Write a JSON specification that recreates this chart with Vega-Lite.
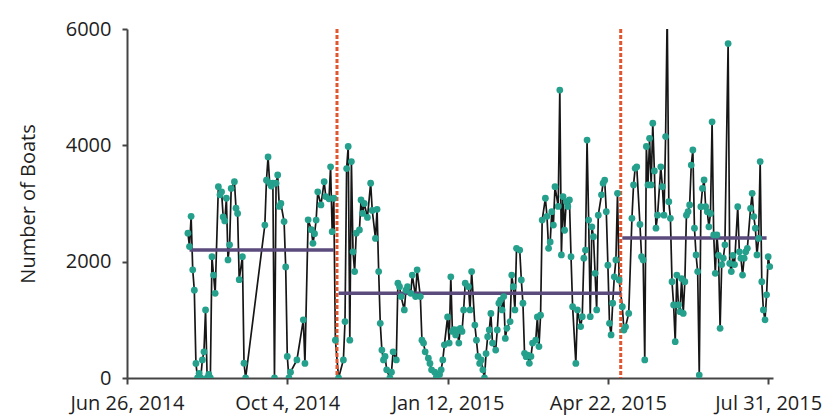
{
"$schema": "https://vega.github.io/schema/vega-lite/v6.json",
"width": 646, "height": 349,
"autosize": {"type": "none"},
"padding": {"left": 127, "top": 29, "right": 67, "bottom": 41},
"background": "white",
"config": {"view": {"stroke": null}, "font": "Open Sans"},
"data": {"values": [
{"t":"2014-08-03","v":2490},{"t":"2014-08-04","v":2260},{"t":"2014-08-05","v":2780},{"t":"2014-08-06","v":1860},{"t":"2014-08-07","v":1510},{"t":"2014-08-08","v":250},{"t":"2014-08-09","v":0},{"t":"2014-08-10","v":80},{"t":"2014-08-11","v":0},{"t":"2014-08-12","v":310},{"t":"2014-08-13","v":450},{"t":"2014-08-14","v":1170},{"t":"2014-08-15","v":0},{"t":"2014-08-16","v":60},{"t":"2014-08-17","v":0},{"t":"2014-08-18","v":2085},{"t":"2014-08-19","v":1770},{"t":"2014-08-20","v":1455},{"t":"2014-08-22","v":3290},{"t":"2014-08-23","v":3150},{"t":"2014-08-24","v":3200},{"t":"2014-08-25","v":2770},{"t":"2014-08-26","v":2700},{"t":"2014-08-27","v":3090},{"t":"2014-08-28","v":2030},{"t":"2014-08-29","v":2290},{"t":"2014-08-30","v":3260},{"t":"2014-09-01","v":3375},{"t":"2014-09-02","v":2920},{"t":"2014-09-03","v":2830},{"t":"2014-09-04","v":1690},{"t":"2014-09-06","v":2085},{"t":"2014-09-07","v":255},{"t":"2014-09-08","v":0},
{"t":"2014-09-20","v":2630},{"t":"2014-09-21","v":3400},{"t":"2014-09-22","v":3800},{"t":"2014-09-23","v":3350},{"t":"2014-09-24","v":3300},{"t":"2014-09-25","v":3350},{"t":"2014-09-26","v":0},{"t":"2014-09-27","v":3350},{"t":"2014-09-28","v":3490},{"t":"2014-09-29","v":2950},{"t":"2014-09-30","v":3000},{"t":"2014-10-02","v":2690},{"t":"2014-10-03","v":1910},{"t":"2014-10-04","v":370},{"t":"2014-10-05","v":0},{"t":"2014-10-06","v":100},{"t":"2014-10-10","v":310},{"t":"2014-10-14","v":1000},{"t":"2014-10-15","v":250},{"t":"2014-10-17","v":2720},{"t":"2014-10-19","v":2550},{"t":"2014-10-20","v":2315},{"t":"2014-10-21","v":2480},{"t":"2014-10-22","v":2716},{"t":"2014-10-23","v":3200},{"t":"2014-10-25","v":2975},{"t":"2014-10-27","v":3375},{"t":"2014-10-28","v":3120},{"t":"2014-10-30","v":3080},{"t":"2014-10-31","v":3630},{"t":"2014-11-01","v":2515},{"t":"2014-11-02","v":3090},{"t":"2014-11-03","v":650},
{"t":"2014-11-05","v":0},{"t":"2014-11-08","v":310},{"t":"2014-11-09","v":970},{"t":"2014-11-10","v":3600},{"t":"2014-11-11","v":3980},{"t":"2014-11-12","v":650},{"t":"2014-11-13","v":3720},{"t":"2014-11-14","v":2170},{"t":"2014-11-15","v":1830},{"t":"2014-11-16","v":2490},{"t":"2014-11-18","v":2545},{"t":"2014-11-19","v":3060},{"t":"2014-11-20","v":2830},{"t":"2014-11-21","v":3000},{"t":"2014-11-23","v":2760},{"t":"2014-11-25","v":3350},{"t":"2014-11-26","v":2880},{"t":"2014-11-28","v":2400},{"t":"2014-11-29","v":2900},{"t":"2014-11-30","v":1830},{"t":"2014-12-01","v":940},{"t":"2014-12-02","v":480},{"t":"2014-12-03","v":310},{"t":"2014-12-04","v":370},{"t":"2014-12-05","v":140},{"t":"2014-12-07","v":0},{"t":"2014-12-08","v":100},{"t":"2014-12-09","v":450},{"t":"2014-12-11","v":310},{"t":"2014-12-12","v":1630},{"t":"2014-12-13","v":1570},{"t":"2014-12-14","v":1400},{"t":"2014-12-16","v":1170},{"t":"2014-12-17","v":1510},{"t":"2014-12-18","v":1570},{"t":"2014-12-20","v":1455},{"t":"2014-12-21","v":1770},{"t":"2014-12-23","v":1400},{"t":"2014-12-24","v":1860},{"t":"2014-12-26","v":1400},{"t":"2014-12-27","v":650},{"t":"2014-12-28","v":600},{"t":"2014-12-29","v":450},{"t":"2014-12-31","v":340},
{"t":"2015-01-01","v":250},{"t":"2015-01-02","v":140},{"t":"2015-01-04","v":100},{"t":"2015-01-05","v":20},{"t":"2015-01-07","v":60},{"t":"2015-01-08","v":140},{"t":"2015-01-09","v":310},{"t":"2015-01-10","v":570},{"t":"2015-01-12","v":1050},{"t":"2015-01-13","v":600},{"t":"2015-01-14","v":1740},{"t":"2015-01-15","v":800},{"t":"2015-01-16","v":830},{"t":"2015-01-17","v":740},{"t":"2015-01-18","v":825},{"t":"2015-01-19","v":600},{"t":"2015-01-20","v":855},{"t":"2015-01-21","v":800},{"t":"2015-01-22","v":1170},{"t":"2015-01-23","v":1630},{"t":"2015-01-25","v":1570},{"t":"2015-01-26","v":1170},{"t":"2015-01-27","v":1830},{"t":"2015-01-29","v":910},{"t":"2015-01-30","v":650},{"t":"2015-01-31","v":370},
{"t":"2015-02-01","v":250},{"t":"2015-02-02","v":310},{"t":"2015-02-03","v":140},{"t":"2015-02-04","v":0},{"t":"2015-02-05","v":420},{"t":"2015-02-06","v":710},{"t":"2015-02-07","v":825},{"t":"2015-02-08","v":1110},{"t":"2015-02-09","v":600},{"t":"2015-02-11","v":480},{"t":"2015-02-12","v":825},{"t":"2015-02-13","v":1285},{"t":"2015-02-14","v":1340},{"t":"2015-02-15","v":1170},{"t":"2015-02-16","v":1400},{"t":"2015-02-17","v":680},{"t":"2015-02-18","v":855},{"t":"2015-02-20","v":970},{"t":"2015-02-21","v":1770},{"t":"2015-02-22","v":1570},{"t":"2015-02-23","v":1170},{"t":"2015-02-24","v":2230},{"t":"2015-02-26","v":2200},{"t":"2015-02-27","v":1685},{"t":"2015-02-28","v":1285},
{"t":"2015-03-01","v":425},{"t":"2015-03-02","v":366},{"t":"2015-03-03","v":395},{"t":"2015-03-04","v":252},{"t":"2015-03-05","v":370},{"t":"2015-03-06","v":600},{"t":"2015-03-08","v":650},{"t":"2015-03-09","v":1050},{"t":"2015-03-10","v":540},{"t":"2015-03-11","v":1080},{"t":"2015-03-12","v":2716},{"t":"2015-03-14","v":3090},{"t":"2015-03-15","v":2780},{"t":"2015-03-16","v":2230},{"t":"2015-03-17","v":2340},{"t":"2015-03-18","v":2860},{"t":"2015-03-19","v":2630},{"t":"2015-03-20","v":3290},{"t":"2015-03-22","v":2950},{"t":"2015-03-23","v":4950},{"t":"2015-03-24","v":2115},{"t":"2015-03-25","v":3120},{"t":"2015-03-26","v":2540},{"t":"2015-03-27","v":3030},{"t":"2015-03-28","v":2950},{"t":"2015-03-29","v":3060},{"t":"2015-03-30","v":2085},{"t":"2015-03-31","v":1225},
{"t":"2015-04-02","v":250},{"t":"2015-04-03","v":1170},{"t":"2015-04-05","v":885},{"t":"2015-04-06","v":1055},{"t":"2015-04-07","v":2060},{"t":"2015-04-08","v":2200},{"t":"2015-04-09","v":4090},{"t":"2015-04-10","v":2716},{"t":"2015-04-11","v":1055},{"t":"2015-04-12","v":2600},{"t":"2015-04-13","v":2430},{"t":"2015-04-14","v":1800},{"t":"2015-04-15","v":1170},{"t":"2015-04-16","v":2800},{"t":"2015-04-18","v":3150},{"t":"2015-04-19","v":3350},{"t":"2015-04-20","v":3400},{"t":"2015-04-21","v":2860},{"t":"2015-04-22","v":1940},{"t":"2015-04-23","v":940},{"t":"2015-04-24","v":740},{"t":"2015-04-25","v":1285},{"t":"2015-04-26","v":1740},{"t":"2015-04-27","v":2030},{"t":"2015-04-28","v":3175},{"t":"2015-04-29","v":1685},
{"t":"2015-05-01","v":1225},{"t":"2015-05-02","v":825},{"t":"2015-05-03","v":880},{"t":"2015-05-05","v":1110},{"t":"2015-05-07","v":2745},{"t":"2015-05-08","v":3320},{"t":"2015-05-09","v":3605},{"t":"2015-05-10","v":3630},{"t":"2015-05-12","v":2640},{"t":"2015-05-13","v":2085},{"t":"2015-05-14","v":2030},{"t":"2015-05-15","v":310},{"t":"2015-05-16","v":3980},{"t":"2015-05-17","v":3320},{"t":"2015-05-18","v":4120},{"t":"2015-05-19","v":3320},{"t":"2015-05-20","v":4380},{"t":"2015-05-21","v":3560},{"t":"2015-05-22","v":2575},{"t":"2015-05-23","v":2800},{"t":"2015-05-25","v":3630},{"t":"2015-05-26","v":3290},{"t":"2015-05-27","v":2800},{"t":"2015-05-28","v":4150},{"t":"2015-05-29","v":6300},{"t":"2015-05-30","v":3030},{"t":"2015-05-31","v":2745},
{"t":"2015-06-01","v":1655},{"t":"2015-06-02","v":1255},{"t":"2015-06-03","v":625},{"t":"2015-06-04","v":1770},{"t":"2015-06-05","v":1255},{"t":"2015-06-06","v":1140},{"t":"2015-06-07","v":1710},{"t":"2015-06-08","v":1110},{"t":"2015-06-09","v":1655},{"t":"2015-06-10","v":2800},{"t":"2015-06-11","v":2860},{"t":"2015-06-12","v":2975},{"t":"2015-06-13","v":3660},{"t":"2015-06-14","v":3920},{"t":"2015-06-15","v":2575},{"t":"2015-06-16","v":2115},{"t":"2015-06-17","v":1830},{"t":"2015-06-18","v":50},{"t":"2015-06-19","v":2945},{"t":"2015-06-20","v":3260},{"t":"2015-06-21","v":3405},{"t":"2015-06-22","v":2945},{"t":"2015-06-23","v":2860},{"t":"2015-06-24","v":2600},{"t":"2015-06-25","v":2830},{"t":"2015-06-26","v":4405},{"t":"2015-06-27","v":2460},{"t":"2015-06-28","v":1800},{"t":"2015-06-29","v":2460},{"t":"2015-06-30","v":2110},
{"t":"2015-07-01","v":855},{"t":"2015-07-02","v":1950},{"t":"2015-07-03","v":2060},{"t":"2015-07-04","v":2290},{"t":"2015-07-06","v":5750},{"t":"2015-07-07","v":1970},{"t":"2015-07-08","v":1830},{"t":"2015-07-09","v":2110},{"t":"2015-07-10","v":1950},{"t":"2015-07-12","v":2945},{"t":"2015-07-13","v":2170},{"t":"2015-07-14","v":2060},{"t":"2015-07-15","v":1770},{"t":"2015-07-16","v":2060},{"t":"2015-07-17","v":2170},{"t":"2015-07-18","v":2230},{"t":"2015-07-20","v":2915},{"t":"2015-07-21","v":3175},{"t":"2015-07-22","v":2775},{"t":"2015-07-23","v":2575},{"t":"2015-07-24","v":2115},{"t":"2015-07-25","v":2400},{"t":"2015-07-26","v":3720},{"t":"2015-07-27","v":1655},{"t":"2015-07-28","v":1170},{"t":"2015-07-29","v":1000},{"t":"2015-07-30","v":1430},{"t":"2015-07-31","v":2085},{"t":"2015-08-01","v":1915}
]},
"layer": [
{"mark": {"type": "line", "color": "#161616", "strokeWidth": 1.7, "clip": true},
 "encoding": {
  "x": {"field": "t", "type": "temporal",
   "scale": {"domain": [{"year": 2014, "month": "jun", "date": 26}, {"year": 2015, "month": "aug", "date": 3}]},
   "axis": {"values": [{"year": 2014, "month": "jun", "date": 26}, {"year": 2014, "month": "oct", "date": 4}, {"year": 2015, "month": "jan", "date": 12}, {"year": 2015, "month": "apr", "date": 22}, {"year": 2015, "month": "jul", "date": 31}],
    "format": "%b %-d, %Y", "title": null, "grid": false, "domainColor": "#444", "domainWidth": 2, "tickColor": "#444", "tickWidth": 2, "tickSize": 6,
    "labelFontSize": 20, "labelColor": "#1e1e1e", "labelPadding": 9, "labelFlush": false, "labelOverlap": false}},
  "y": {"field": "v", "type": "quantitative", "scale": {"domain": [0, 6000]},
   "axis": {"values": [0, 2000, 4000, 6000], "format": "d", "title": "Number of Boats", "grid": false, "domainColor": "#444", "domainWidth": 2, "tickColor": "#444", "tickWidth": 2, "tickSize": 5,
    "labelFontSize": 20, "labelColor": "#1e1e1e", "labelPadding": 11, "titleFontSize": 20, "titleFontWeight": "normal", "titleColor": "#1e1e1e", "titlePadding": 27}}
 }},
{"data": {"values": [{"t": "2014-11-04"}, {"t": "2015-04-30"}]},
 "mark": {"type": "rule", "color": "#e0562e", "strokeWidth": 3, "strokeDash": [4, 2]},
 "encoding": {"x": {"field": "t", "type": "temporal"}}},
{"data": {"values": [{"t0": "2014-08-04", "t1": "2014-11-02", "m": 2200}, {"t0": "2014-11-05", "t1": "2015-04-30", "m": 1455}, {"t0": "2015-05-01", "t1": "2015-07-30", "m": 2405}]},
 "mark": {"type": "rule", "color": "#5b4a7c", "strokeWidth": 3.5},
 "encoding": {"x": {"field": "t0", "type": "temporal"}, "x2": {"field": "t1"}, "y": {"field": "m", "type": "quantitative"}}},
{"mark": {"type": "point", "filled": true, "color": "#24a08c", "opacity": 1, "size": 46, "clip": true},
 "encoding": {"x": {"field": "t", "type": "temporal"}, "y": {"field": "v", "type": "quantitative"}}}
]
}
